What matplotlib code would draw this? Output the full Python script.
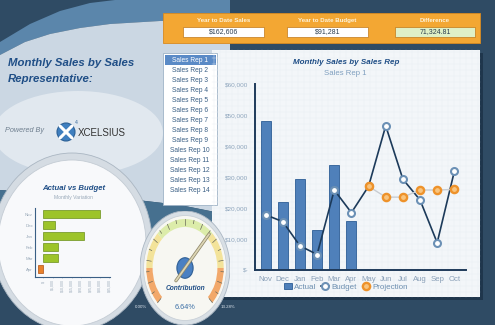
import numpy as np
import matplotlib.pyplot as plt
from matplotlib.patches import Rectangle, Ellipse, Polygon, Circle, Wedge

plt.rcParams['font.family'] = ['Liberation Sans', 'DejaVu Sans']

# data
months = ['Nov', 'Dec', 'Jan', 'Feb', 'Mar', 'Apr', 'May', 'Jun', 'Jul', 'Aug', 'Sep', 'Oct']
actual = [48000, 22000, 29500, 13000, 33800, 15800]
budget = [17800, 15600, 7800, 5000, 25800, 18500, 27000, 46500, 29300, 22600, 8800, 31800]
projection = [27000, 23500, 23500, 25800, 25800, 26000]   # May..Oct
reps = ['Sales Rep %d' % i for i in range(1, 15)]
summary_labels = ['Year to Date Sales', 'Year to Date Budget', 'Difference']
summary_values = ['$162,606', '$91,281', '71,324.81']
y_ticks = [0, 10000, 20000, 30000, 40000, 50000, 60000]
y_labels = ['$-', '$10,000', '$20,000', '$30,000', '$40,000', '$50,000', '$60,000']
var_ticks = [0, 5000, 10000, 15000, 20000, 25000, 30000, 35000]
var_labels = ['$-', '$5,000', '$10,000', '$15,000', '$20,000', '$25,000', '$30,000', '$35,000']
contribution = '6.64%'
gauge_min, gauge_max = '0.00%', '13.28%'
needle_angle = 48

variation = [a - b for a, b in zip(actual, budget)]

navy = '#2f4b64'
fig = plt.figure(figsize=(4.95, 3.25), dpi=100, facecolor=navy)

# ---- background (pixel coords)
bg = fig.add_axes([0, 0, 1, 1], zorder=0)
bg.set_xlim(0, 495)
bg.set_ylim(325, 0)
bg.axis('off')

top_edge = [(0, 55), (25, 42), (50, 34), (80, 28), (110, 24), (160, 21), (230, 19)]
band_top = [(230, 0), (115, 0), (90, 3), (60, 11), (30, 24), (0, 42)]
bg.add_patch(Polygon(top_edge + band_top, closed=True, fc='#5b86ab', ec='none'))
bot_edge = [(230, 215), (180, 205), (120, 198), (60, 194), (0, 190)]
bg.add_patch(Polygon(top_edge + bot_edge, closed=True, fc='#cbd7e3', ec='none'))
bg.add_patch(Polygon(bot_edge[::-1] + [(230, 215), (230, 262), (150, 240), (60, 228), (0, 232)],
                     closed=True, fc='#46708f', ec='none'))
bg.add_patch(Ellipse((78, 133), 170, 84, fc='#e1e8ef', ec='none'))

# title text left
bg.text(8, 63, 'Monthly Sales by Sales', fontsize=8.2, fontweight='bold', fontstyle='italic',
        color='#1f4e86', va='center')
bg.text(8, 79, 'Representative:', fontsize=8.2, fontweight='bold', fontstyle='italic',
        color='#1f4e86', va='center')
bg.text(5, 131, 'Powered By', fontsize=5.2, fontstyle='italic', color='#6f7f8f', va='center')
bg.add_patch(Circle((66, 132), 9, fc='#3f7fbf', ec='#2a5f95', lw=0.8))
bg.plot([60, 72], [126, 138], color='white', lw=2.2, solid_capstyle='round')
bg.plot([60, 72], [138, 126], color='white', lw=2.2, solid_capstyle='round')
bg.text(75, 122, '4', fontsize=3.8, color='#3f6f9f', va='center')
bg.text(78, 133, 'XCELSIUS', fontsize=7, color='#333333', va='center')

# orange summary bar
bg.add_patch(Rectangle((163, 13), 317, 30, fc='#f3a733', ec='#d88a20', lw=0.6))
box_x = [(183, 81), (287, 81), (395, 80)]
box_fc = ['white', 'white', '#dff0c6']
for (bx, bw), lab, val, fc in zip(box_x, summary_labels, summary_values, box_fc):
    bg.text(bx + bw / 2, 20.5, lab, fontsize=4.4, fontweight='bold', color='#fdf3dc',
            ha='center', va='center')
    bg.add_patch(Rectangle((bx, 27), bw, 10, fc=fc, ec='#c07818', lw=0.5))
    bg.text(bx + bw / 2, 32, val, fontsize=5, color='#2c3e50', ha='center', va='center')

# main chart panel
bg.add_patch(Rectangle((215, 53), 268, 247, fc='#1f364c', ec='none'))
bg.add_patch(Rectangle((212, 50), 268, 247, fc='#f3f6f9', ec='none'))
for gx in range(214, 480, 6):
    bg.plot([gx, gx], [50, 297], color='#e9eef3', lw=0.3)
for gy in range(52, 297, 6):
    bg.plot([212, 480], [gy, gy], color='#e9eef3', lw=0.3)

# sales rep list
bg.add_patch(Rectangle((163, 53), 54, 152, fc='white', ec='#9fb3c6', lw=0.6))
bg.add_patch(Rectangle((164.5, 55), 51, 10, fc='#5a8ac6', ec='none'))
for i, rep in enumerate(reps):
    bg.text(190, 60 + i * 10, rep, fontsize=4.75, color='white' if i == 0 else '#3a5f85',
            ha='center', va='center')

# actual vs budget circle
bg.add_patch(Ellipse((72, 242), 160, 178, fc='#d5dce3', ec='#aab6c2', lw=0.6))
bg.add_patch(Ellipse((72, 243), 148, 166, fc='#f8f9fb', ec='#c4ccd4', lw=0.6))
bg.text(74, 188, 'Actual vs Budget', fontsize=5.6, fontweight='bold', fontstyle='italic',
        color='#1f4e86', ha='center', va='center')
bg.text(74, 198, 'Monthly Variation', fontsize=3.6, color='#98a8b8', ha='center', va='center')

bg.text(141, 307, gauge_min, fontsize=3.2, color='#dfe7ef', ha='center', va='center')
bg.text(228, 307, gauge_max, fontsize=3.2, color='#dfe7ef', ha='center', va='center')

# ---- main combo chart
ax = fig.add_axes([255 / 495, 55 / 325, 211 / 495, 186 / 325], zorder=2)
ax.set_facecolor('none')
x_all = np.arange(len(months))
bars = ax.bar(x_all[:len(actual)], actual, width=0.58, color='#4f80ba', edgecolor='#2d5d96',
              lw=0.6, label='Actual', zorder=2)
bl, = ax.plot(x_all, budget, color='#1c3a5a', lw=1.2, marker='o', ms=5, mfc='white',
              mec='#6b90b5', mew=1.5, label='Budget', zorder=3)
pl, = ax.plot(x_all[len(months) - len(projection):], projection, color='#c9cdd2', lw=1.0,
              marker='o', ms=5.2, mfc='#f8c47e', mec='#ee922a', mew=1.7, label='Projection', zorder=4)
ax.set_xlim(-0.62, 11.68)
ax.set_ylim(0, 60000)
ax.set_yticks(y_ticks)
ax.set_yticklabels(y_labels)
ax.set_xticks(x_all)
ax.set_xticklabels(months)
ax.tick_params(axis='y', length=0, labelsize=4.6, labelcolor='#8fa6bd', pad=5)
ax.tick_params(axis='x', length=0, labelsize=5.6, labelcolor='#8aa0b8', pad=4)
for s in ['top', 'right']:
    ax.spines[s].set_visible(False)
for s in ['left', 'bottom']:
    ax.spines[s].set_color('#1f3a5a')
    ax.spines[s].set_linewidth(1.4)
ax.text(0.43, 1.118, 'Monthly Sales by Sales Rep', transform=ax.transAxes, fontsize=5.8,
        fontweight='bold', fontstyle='italic', color='#1f4e86', ha='center', va='center')
ax.text(0.43, 1.055, 'Sales Rep 1', transform=ax.transAxes, fontsize=5.6, color='#7f9fbf',
        ha='center', va='center')
leg = ax.legend(handles=[bars, bl, pl], loc='center', bbox_to_anchor=(0.43, -0.092), ncol=3,
                frameon=False, fontsize=5.8, handlelength=1.0, handletextpad=0.3,
                columnspacing=0.6, borderpad=0)
for t in leg.get_texts():
    t.set_color('#6d8fb0')

# ---- small variation chart
vx = fig.add_axes([35 / 495, 48.3 / 325, 75 / 495, 68.7 / 325], zorder=2)
vx.set_facecolor('none')
ypos = np.arange(len(variation))
cols = ['#9dc42a' if v >= 0 else '#e8802a' for v in variation]
ecs = ['#6a8f1a' if v >= 0 else '#b05010' for v in variation]
vx.barh(ypos, variation, height=0.66, color=cols, edgecolor=ecs, lw=0.5)
vx.set_ylim(5.7, -0.55)
vx.set_xlim(-4500, 35500)
vx.set_yticks(ypos)
vx.set_yticklabels(months[:len(variation)])
vx.set_xticks(var_ticks)
vx.set_xticklabels(var_labels, rotation=90)
vx.tick_params(axis='y', length=0, labelsize=3.2, labelcolor='#98a8b8', pad=1.5)
vx.tick_params(axis='x', length=1, width=0.4, color='#98a8b8', labelsize=2.6,
               labelcolor='#98a8b8', pad=1)
for s in ['top', 'right']:
    vx.spines[s].set_visible(False)
for s in ['left', 'bottom']:
    vx.spines[s].set_color('#3a5f85')
    vx.spines[s].set_linewidth(0.8)

# ---- gauge
gx_ = fig.add_axes([140 / 495, 0, 90 / 495, 114 / 325], zorder=3)
gx_.set_xlim(-1, 1)
gx_.set_ylim(-1, 1)
gx_.axis('off')
gx_.add_patch(Circle((0, 0), 1, fc='#d8dfe5', ec='#aab6c2', lw=0.6))
gx_.add_patch(Circle((0, 0), 0.92, fc='#f7f7f2', ec='#c4ccd4', lw=0.5))
bands = [(180, 225, '#f2a86a'), (135, 180, '#f3e39a'), (45, 135, '#dcecaa'),
         (0, 45, '#f3e39a'), (-45, 0, '#f2a86a')]
for t1, t2, c in bands:
    gx_.add_patch(Wedge((0, 0), 0.86, t1, t2, width=0.14, fc=c, ec='none'))
for a in np.linspace(225, -45, 21):
    r0 = 0.76 if a in np.linspace(225, -45, 11) else 0.80
    ar = np.radians(a)
    gx_.plot([r0 * np.cos(ar), 0.86 * np.cos(ar)], [r0 * np.sin(ar), 0.86 * np.sin(ar)],
             color='#6a6a5a', lw=0.5)
na = np.radians(needle_angle)
gx_.plot([-0.3 * np.cos(na), 0.8 * np.cos(na)], [-0.3 * np.sin(na), 0.8 * np.sin(na)],
         color='#8f876a', lw=2.4, solid_capstyle='round')
gx_.plot([-0.3 * np.cos(na), 0.8 * np.cos(na)], [-0.3 * np.sin(na), 0.8 * np.sin(na)],
         color='#dcd5b4', lw=1.3, solid_capstyle='round')
gx_.add_patch(Circle((0, 0), 0.18, fc='#4a80c2', ec='#2f5f95', lw=0.8))
gx_.text(0, -0.36, 'Contribution', fontsize=4.8, fontweight='bold', fontstyle='italic',
         color='#1f4e86', ha='center', va='center')
gx_.text(0, -0.69, contribution, fontsize=5.2, color='#3a6ea5', ha='center', va='center')

fig.savefig('out.png', dpi=100, facecolor=navy)
